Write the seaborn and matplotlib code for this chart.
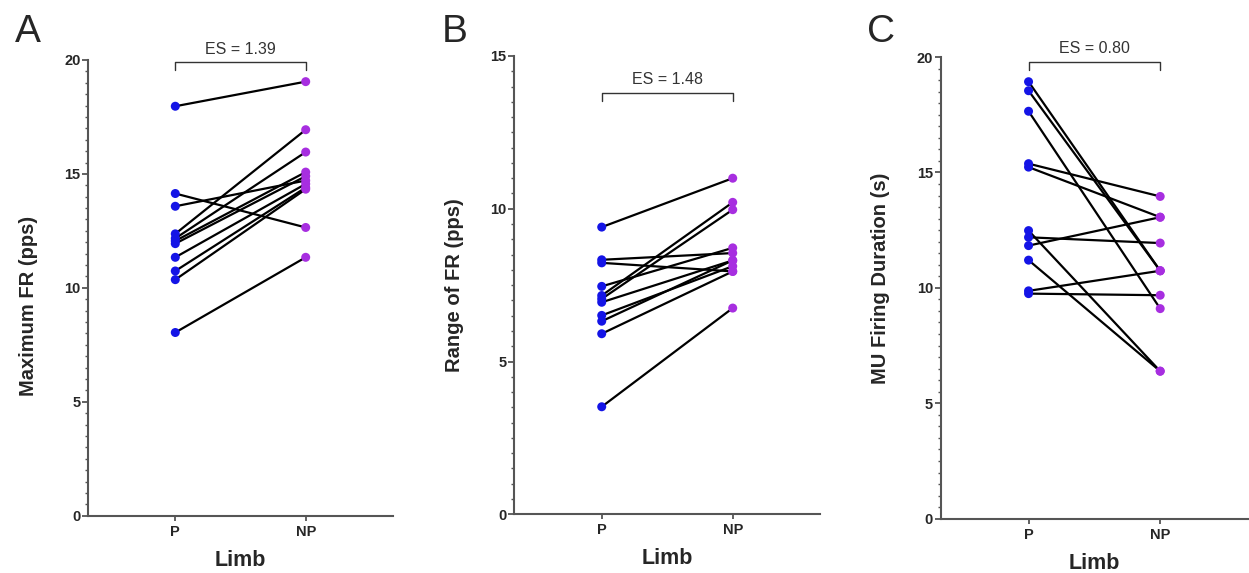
import numpy as np
import pandas as pd
import matplotlib
matplotlib.use("Agg")
import matplotlib.pyplot as plt
from matplotlib.ticker import MultipleLocator
import seaborn as sns

limbs = ["P", "NP"]

max_fr_p = [17.97, 14.14, 13.58, 12.37, 12.17, 12.06, 11.94, 11.34, 10.74, 10.36, 8.04]
max_fr_np = [19.05, 12.65, 14.71, 16.94, 15.96, 15.08, 14.90, 14.56, 14.40, 14.33, 11.34]

range_fr_p = [9.40, 8.33, 8.23, 7.46, 7.16, 7.05, 6.94, 6.51, 6.32, 5.91, 3.52]
range_fr_np = [11.00, 8.55, 7.95, 8.72, 10.21, 9.97, 8.31, 8.12, 8.31, 7.95, 6.75]

duration_p = [18.93, 18.54, 17.65, 15.38, 15.23, 12.48, 12.19, 11.83, 11.20, 9.87, 9.75]
duration_np = [10.74, 10.74, 9.10, 13.96, 13.06, 6.39, 11.94, 13.06, 6.39, 10.74, 9.68]

panels = [
    ("A", "Maximum FR (pps)", max_fr_p, max_fr_np, "ES = 1.39", 20, [0.0707, 0.1000, 0.2437, 0.7953], 0.46),
    ("B", "Range of FR (pps)", range_fr_p, range_fr_np, "ES = 1.48", 15, [0.4118, 0.1024, 0.2448, 0.7999], 0.50),
    ("C", "MU Firing Duration (s)", duration_p, duration_np, "ES = 0.80", 20, [0.7532, 0.0948, 0.2460, 0.8057], 0.52),
]
bracket_y = {"A": 19.9, "B": 13.8, "C": 19.8}

sns.set_style("ticks")
plt.rcParams["font.family"] = ["Liberation Sans", "DejaVu Sans"]

palette = {"P": "#1414e6", "NP": "#a72ee0"}
axis_col = "#555555"

fig = plt.figure(figsize=(12.49, 5.73), dpi=100)

for letter, ylabel, p_vals, np_vals, es_text, ytop, rect, ylab_y in panels:
    ax = fig.add_axes(rect)
    n = len(p_vals)
    df = pd.DataFrame({
        "subject": list(range(n)) * 2,
        "Limb": ["P"] * n + ["NP"] * n,
        "value": list(p_vals) + list(np_vals),
    })
    sns.lineplot(data=df, x="Limb", y="value", units="subject", estimator=None,
                 color="black", linewidth=1.6, ax=ax, zorder=2, legend=False)
    sns.scatterplot(data=df, x="Limb", y="value", hue="Limb", palette=palette,
                    s=42, linewidth=0, ax=ax, zorder=3, legend=False)

    ax.set_xlim(-0.667, 1.667)
    ax.set_ylim(0, ytop)
    ax.yaxis.set_major_locator(MultipleLocator(5))
    ax.yaxis.set_minor_locator(MultipleLocator(0.5))
    sns.despine(ax=ax)
    for side in ["left", "bottom"]:
        ax.spines[side].set_color(axis_col)
        ax.spines[side].set_linewidth(1.5)
    ax.tick_params(axis="y", which="major", length=4.5, width=1.3, color=axis_col, pad=1,
                   labelsize=10.5)
    ax.tick_params(axis="y", which="minor", length=2.2, width=1.0, color=axis_col)
    ax.tick_params(axis="x", length=3.5, width=1.3, color=axis_col, pad=3, labelsize=10.5)
    for lab in ax.get_yticklabels() + ax.get_xticklabels():
        lab.set_fontweight("bold")

    ax.set_xlabel("Limb", fontsize=15.5, fontweight="bold", labelpad=8)
    ax.set_ylabel(ylabel, fontsize=14.5, fontweight="bold")
    ax.yaxis.set_label_coords(-0.165, ylab_y)

    # effect size bracket
    by = bracket_y[letter]
    leg = ytop * 0.018
    ax.plot([0, 0, 1, 1], [by - leg, by, by, by - leg], color="#333333",
            linewidth=1.0, clip_on=False, zorder=4)
    ax.text(0.5, by + ytop * 0.012, es_text, ha="center", va="bottom",
            fontsize=11.5, color="#333333", clip_on=False)

    fig.text(rect[0] - 0.048, 0.945, letter, fontsize=28, ha="center", va="center")

fig.savefig("out.png", dpi=100)
